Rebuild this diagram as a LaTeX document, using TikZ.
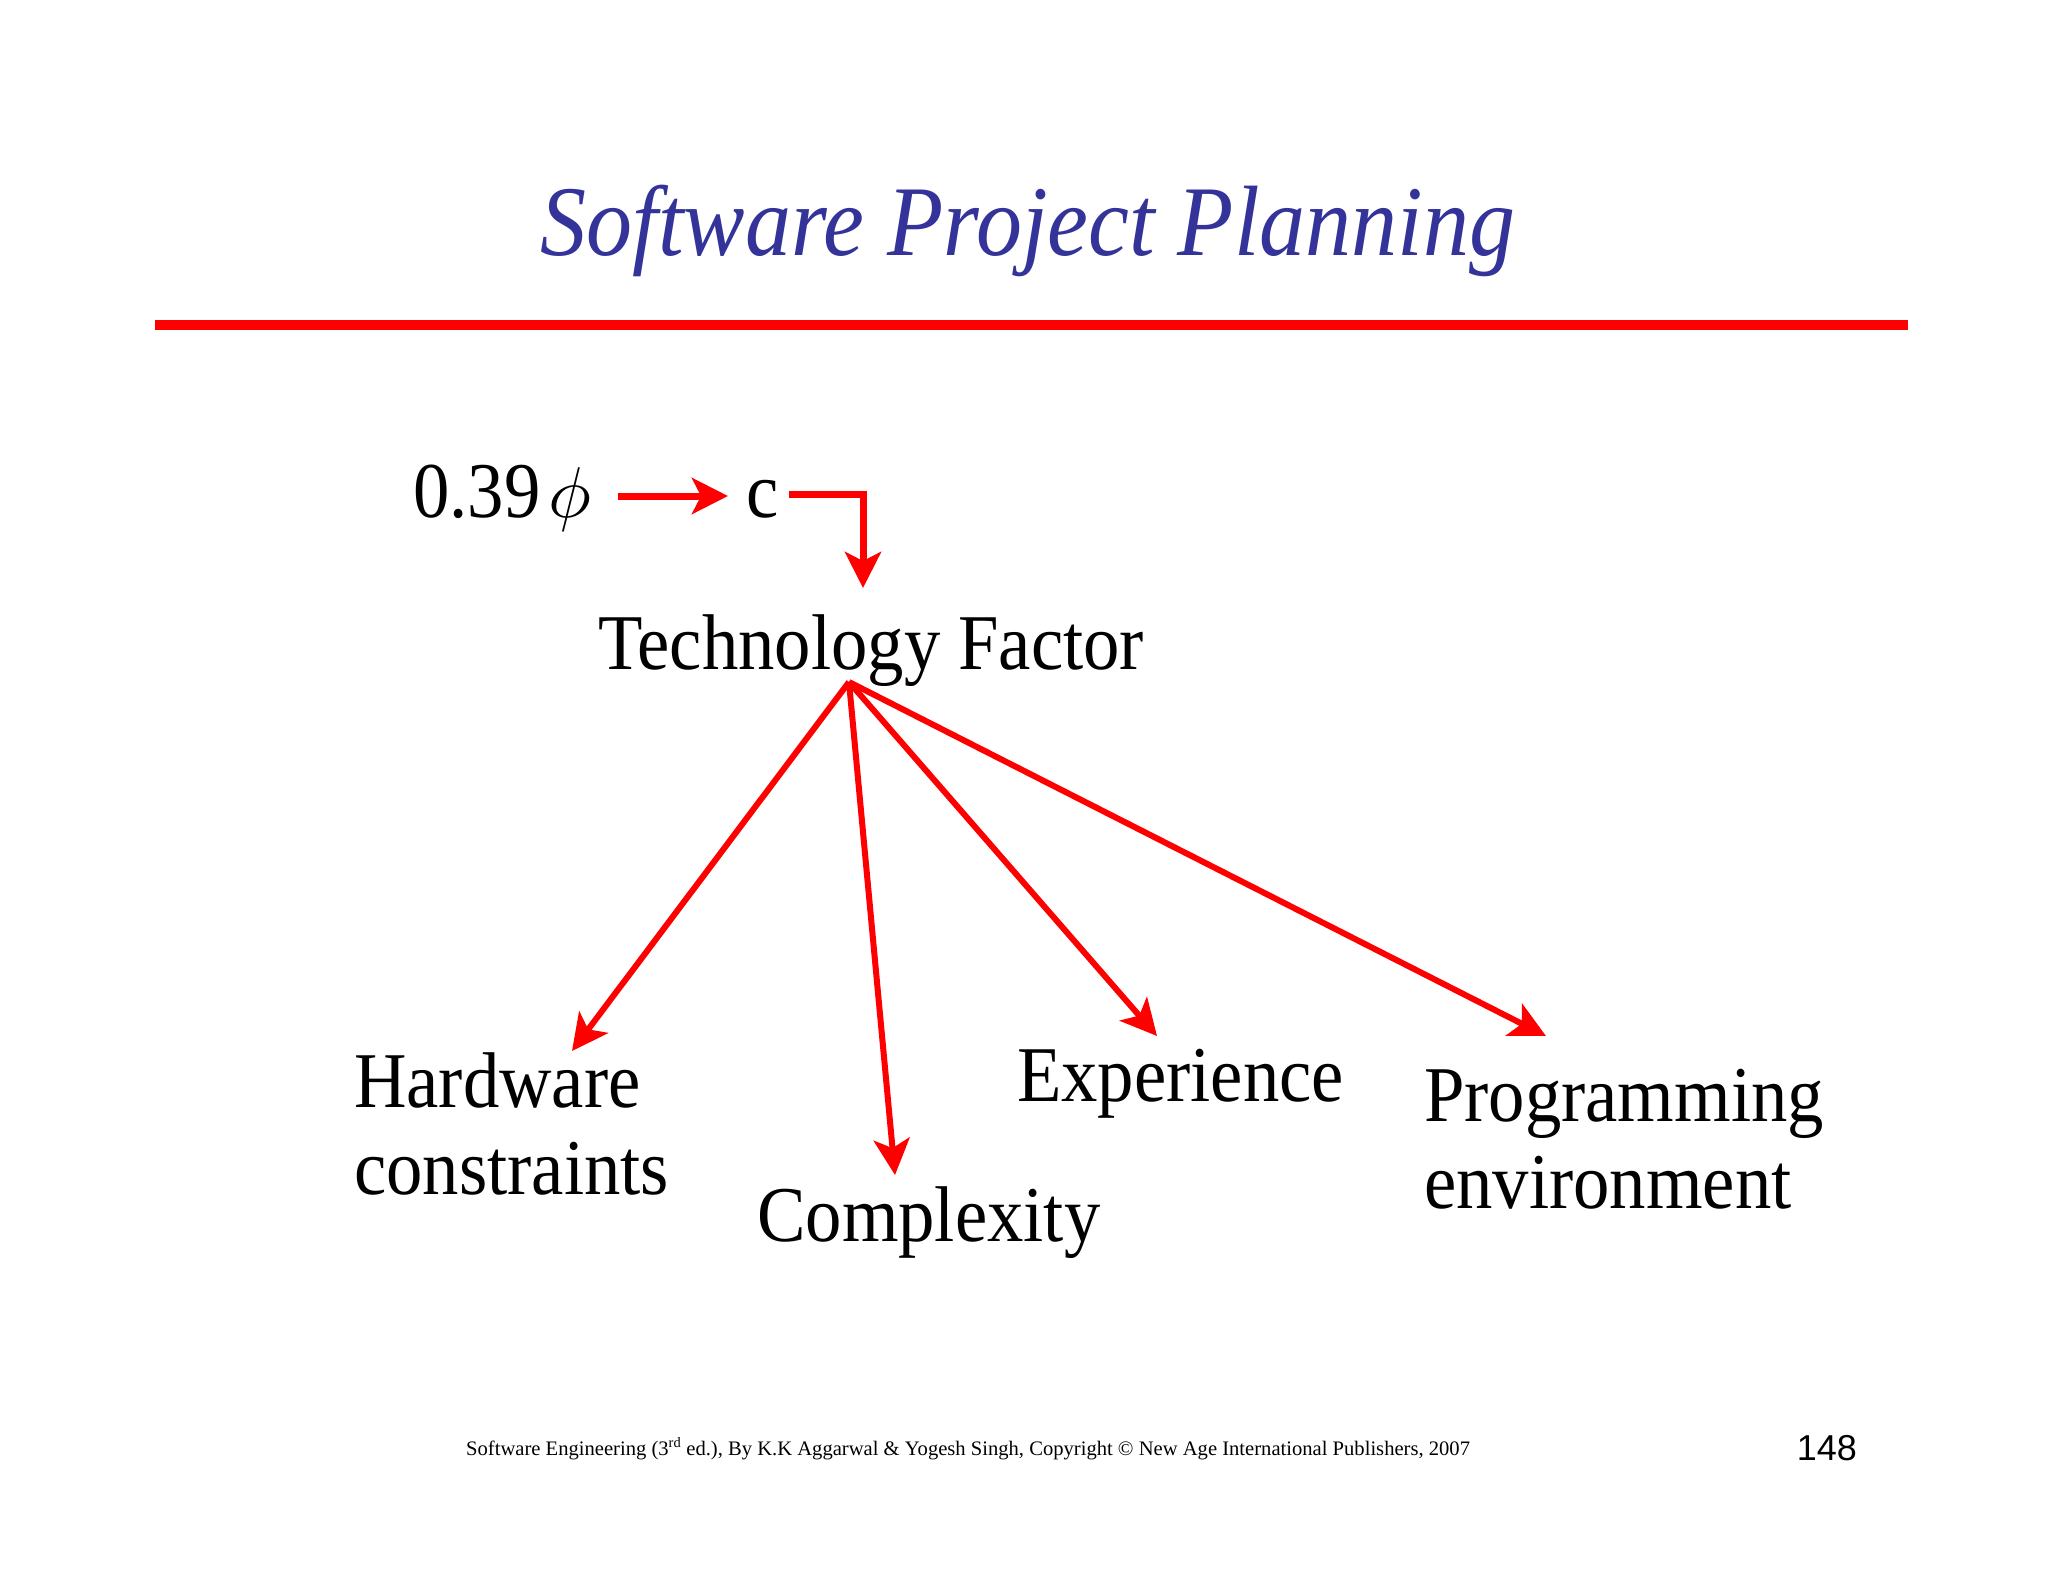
\documentclass[tikz,border=0pt]{standalone}
\usepackage{graphicx}
\usepackage{fontspec}
\setmainfont{Liberation Serif}[FakeStretch=0.92]
\newfontfamily\footfont{Liberation Serif}
\newfontfamily\titlefont{Liberation Serif}[FakeStretch=0.92]
\newfontfamily\arialfont{Liberation Sans}
\usetikzlibrary{arrows.meta}
\definecolor{titleblue}{RGB}{51,51,153}
\definecolor{arrred}{RGB}{255,0,0}
\begin{document}
\begin{tikzpicture}[x=1pt,y=-1pt,
  lbl/.style={anchor=base west,inner sep=0pt,font=\fontsize{79}{87}\selectfont,align=left},
  arr/.style={draw=arrred,line width=6pt,-{Stealth[length=36pt,width=36pt,inset=9pt]}}]
\useasboundingbox[fill=white] (0,0) rectangle (2048,1582);
% title
\node[anchor=base,inner sep=0pt,text=titleblue,font=\titlefont\fontsize{100}{110}\selectfont\itshape] (title) at (1028,255) {Software Project Planning};
\draw[arrred,line width=10pt] (155,325) coordinate (rl) -- (1908,325) coordinate (rr);
% top row
\node[lbl] (phi) at (413,517) {0.39\hspace{8pt}\scalebox{7.2}{\fontsize{10}{12}\selectfont$\phi$}};
\node[lbl] (c) at (746,517) {c};
\coordinate (a1s) at (618,496);
\coordinate (a1e) at (728,496);
\draw[arr,line width=7pt] (a1s) -- (a1e);
\coordinate (a2s) at (789,494);
\coordinate (a2c) at (863,494);
\coordinate (a2e) at (863,588);
\draw[arr,line width=7pt] (a2s) -- (a2c) -- (a2e);
% technology factor
\node[lbl] (tf) at (598,669) {Technology Factor};
\coordinate (o) at (849,682);
\coordinate (th) at (572,1051);
\coordinate (tc) at (895,1175);
\coordinate (te) at (1157,1036);
\coordinate (tp) at (1546,1036);
\draw[arr] (o) -- (th);
\draw[arr] (o) -- (tc);
\draw[arr] (o) -- (te);
\draw[arr] (o) -- (tp);
% leaves
\node[lbl] (hw) at (354,1194) {Hardware\\constraints};
\node[lbl] (cx) at (757,1241) {Complexity};
\node[lbl] (ex) at (1017,1101) {Experience};
\node[lbl] (pe) at (1424,1208) {Programming\\environment};
% footer
\node[anchor=base west,inner sep=0pt,font=\footfont\fontsize{20.6}{24}\selectfont] (foot) at (466,1455) {Software Engineering (3\textsuperscript{rd} ed.), By K.K Aggarwal \& Yogesh Singh, Copyright \textcopyright{} New Age International Publishers, 2007};
\node[anchor=base east,inner sep=0pt,font=\arialfont\fontsize{36}{40}\selectfont] (page) at (1857,1460) {148};
\end{tikzpicture}
\end{document}
